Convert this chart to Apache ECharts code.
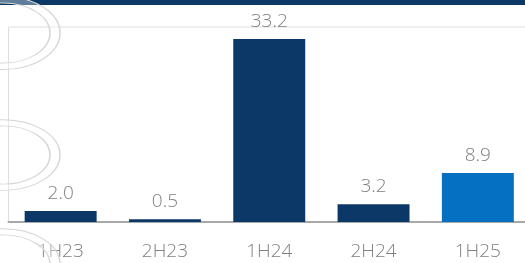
<!DOCTYPE html>
<html><head><meta charset="utf-8">
<script src="https://cdn.jsdelivr.net/npm/echarts@6/dist/echarts.min.js"></script>
<style>html,body{margin:0;padding:0;background:#fff;overflow:hidden}#c{width:531px;height:263px}</style>
</head><body><div id="c"></div>
<script>
const categories = ['1H23', '2H23', '1H24', '2H24', '1H25'];
const values = [2.0, 0.5, 33.2, 3.2, 8.9];
const barColors = ['#0c3868', '#0c3868', '#0c3868', '#0c3868', '#0570c1'];

const chart = echarts.init(document.getElementById('c'), null, {renderer: 'canvas'});
const wm = {fill: 'rgba(255,255,255,0.35)', stroke: '#d6d6d6', lineWidth: 1.5};
chart.setOption({
  animation: false,
  grid: {left: 8.5, right: 1, top: 27, bottom: 41, show: true, borderColor: '#dedede', borderWidth: 1, backgroundColor: 'transparent'},
  xAxis: {
    type: 'category', data: categories,
    axisLine: {lineStyle: {color: '#a8a8a8', width: 2}},
    axisTick: {show: false},
    axisLabel: {color: '#808080', fontSize: 19, fontFamily: 'Open Sans', fontWeight: 300, margin: 20}
  },
  yAxis: {type: 'value', min: 0, max: 35.4, show: false, splitLine: {show: false}},
  series: [{
    type: 'bar', barWidth: '69%',
    data: values.map((v, i) => ({value: v, itemStyle: {color: barColors[i]}})),
    label: {show: true, position: 'top', distance: 8, color: '#808080', fontSize: 19, fontFamily: 'Open Sans', fontWeight: 300,
      formatter: p => p.value.toFixed(1)}
  }],
  graphic: [
    {type: 'rect', left: 0, top: 0, shape: {x: 0, y: 0, width: 531, height: 5}, style: {fill: '#0c3866'}, z: 5},
    {type: 'ring', shape: {cx: 0, cy: 0, r: 57, r0: 47}, x: 3, y: 33, scaleY: 0.64, style: wm, z: 10},
    {type: 'ring', shape: {cx: 0, cy: 0, r: 57, r0: 47}, x: 3, y: 155, scaleY: 0.62, style: wm, z: 10},
    {type: 'ring', shape: {cx: 0, cy: 0, r: 57, r0: 47}, x: 3, y: 264, scaleY: 0.62, style: wm, z: 10}
  ]
});
</script></body></html>
